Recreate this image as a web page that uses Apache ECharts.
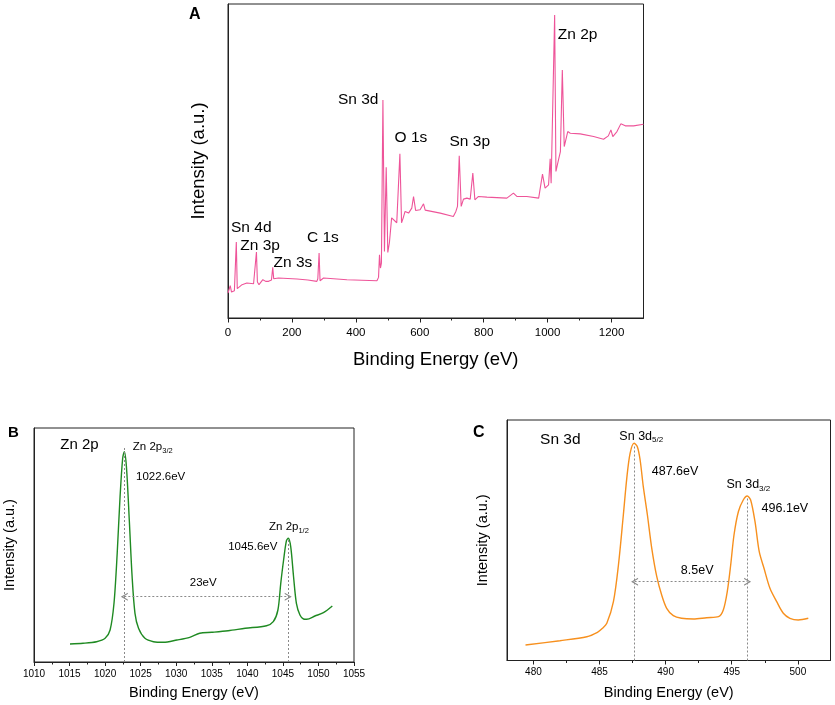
<!DOCTYPE html>
<html>
<head>
<meta charset="utf-8">
<script src="https://cdn.jsdelivr.net/npm/echarts@6/dist/echarts.min.js"></script>
<style>
  html, body { margin: 0; padding: 0; background: #fff; }
  #main { width: 835px; height: 705px; }
</style>
</head>
<body>
<div id="main"></div>
<script>
// A: survey spectrum
let energyA = [0, 4, 7, 11, 15, 20, 23, 26, 29, 33, 44, 59, 80, 86, 89, 92, 97, 103, 109, 118,
  127, 136, 140, 143, 158, 216, 250, 278, 281, 285, 288, 292, 299, 372, 466, 471, 474, 477, 480, 484.7,
  489.5, 495, 500, 505, 512, 518, 528, 533, 537.8, 543, 548, 554, 565, 575, 580.5, 587, 601, 611.8, 617, 664,
  705, 713, 718, 723.5, 729.6, 736.8, 747.4, 757.8, 766, 772.4, 783.7, 810, 872.5, 893, 903.8, 935, 972, 984, 992, 1003,
  1008, 1011, 1016, 1022, 1026, 1034, 1040, 1046, 1052, 1063, 1071, 1102, 1144, 1175, 1190, 1198, 1204, 1217, 1229, 1243,
  1269, 1300];
let intensityA = [75, 80, 97, 78, 76, 82, 86, 228, 88, 86, 100, 105, 103, 108, 198, 108, 100, 106, 115, 110,
  110, 114, 152, 118, 120, 117, 114, 110, 118, 195, 112, 108, 120, 115, 112, 122, 190, 150, 165, 655,
  200, 453, 197, 226, 301, 306, 286, 292, 493, 286, 300, 320, 315, 330, 365, 323, 325, 343, 324, 315,
  305, 320, 335, 487, 335, 357, 360, 357, 435, 355, 365, 363, 360, 375, 365, 365, 360, 432, 390, 400,
  478, 405, 410, 910, 440, 475, 500, 745, 515, 560, 555, 553, 545, 537, 547, 565, 545, 560, 583, 577,
  577, 582];
let ticksA = [0, 200, 400, 600, 800, 1000, 1200];
let minorA = [100, 300, 500, 700, 900, 1100];
// [E, I, text]
let labelsA = [
  [9.4, 270, 'Sn 4d'], [38.5, 217, 'Zn 3p'], [142.6, 167, 'Zn 3s'], [247, 240, 'C 1s'],
  [344, 657, 'Sn 3d'], [521, 540, 'O 1s'], [693, 530, 'Sn 3p'], [1032, 850, 'Zn 2p']
];

// B: Zn 2p
let energyB = [1015.06, 1016.9, 1018.8, 1020.0, 1020.7, 1021.25, 1021.7, 1022.1, 1022.47, 1022.7,
  1023.0, 1023.4, 1023.8, 1024.2, 1024.7, 1025.6, 1026.8, 1028.2, 1030.1, 1031.9,
  1033.3, 1035.0, 1037.3, 1039.7, 1042.7, 1043.65, 1044.3, 1044.7, 1045.1, 1045.5,
  1045.76, 1046.1, 1046.5, 1046.9, 1047.4, 1047.9, 1048.35, 1049.5, 1050.7, 1051.95];
let intensityB = [18, 18.7, 20.3, 23.7, 32, 58.7, 108.7, 165, 203.7, 210.3,
  195, 142, 85, 48.7, 33.7, 23.7, 20.3, 19.7, 22, 24.7,
  28.7, 29.7, 31.3, 33.7, 36.3, 40.3, 52, 78.7, 102, 121.3,
  123.7, 115.3, 85.3, 58.7, 47, 43, 42.7, 46, 49.3, 56];
let ticksB = [1010, 1015, 1020, 1025, 1030, 1035, 1040, 1045, 1050, 1055];
let minorB = [1012.5, 1017.5, 1022.5, 1027.5, 1032.5, 1037.5, 1042.5, 1047.5, 1052.5];
let titleB = [1013.7, 217, 'Zn 2p'];
let labelsB = [
  [1023.9, 215, '{m|Zn 2p}{s|3/2}'], [1024.35, 185, '1022.6eV'], [1031.9, 79, '23eV'],
  [1043.05, 135, '{m|Zn 2p}{s|1/2}'], [1037.3, 115, '1045.6eV']
];
let peaksB = [1022.7, 1045.75];
let peakTopB = [214, 124];
let arrowB = 65.3;

// C: Sn 3d
let energyC = [479.4, 482.0, 484.04, 484.84, 485.2, 485.55, 486.05, 486.43, 486.8, 487.06,
  487.31, 487.61, 487.86, 488.07, 488.31, 488.62, 488.95, 489.33, 489.7, 490.08,
  490.58, 491.2, 492.1, 493.1, 494.0, 494.36, 494.66, 494.92, 495.17, 495.5,
  495.87, 496.17, 496.43, 496.76, 497.08, 497.44, 497.89, 498.4, 498.9, 499.4,
  500.03, 500.79];
let intensityC = [15.5, 19.8, 23.8, 28.2, 32, 37.2, 58.8, 95.5, 145.5, 182.2,
  207.2, 217.2, 213.8, 200.5, 173.8, 145.5, 112.2, 83.8, 65.5, 52.2,
  44.8, 42.2, 41.5, 42.8, 43.8, 50.5, 68.8, 95.5, 125.5, 148.8,
  160.5, 164.5, 160.5, 138.8, 108.8, 92.2, 72.2, 58.8, 47.2, 42.2,
  40.5, 42.2];
let ticksC = [480, 485, 490, 495, 500];
let minorC = [482.5, 487.5, 492.5, 497.5];
let titleC = [480.5, 221, 'Sn 3d'];
let labelsC = [
  [486.5, 224, '{m|Sn 3d}{s|5/2}'], [488.95, 189, '487.6eV'],
  [494.6, 175.5, '{m|Sn 3d}{s|3/2}'], [497.26, 151.5, '496.1eV'], [491.15, 89.5, '8.5eV']
];
let peaksC = [487.65, 496.2];
let peakTopC = [215.5, 164];
let arrowC = 78.8;

const FONT = '"Liberation Sans", Arial, sans-serif';
const chevron = 'path://M0,10 L5,0 L10,10 L8.4,10 L5,3.2 L1.6,10 Z';

const zip = (xs, ys) => xs.map((x, i) => [x, ys[i]]);

// 主轴 + 次刻度轴
const mainX = (grid, min, max, ticks, opt) => ({
  type: 'value', gridIndex: grid, min: min, max: max,
  name: 'Binding Energy (eV)', nameLocation: 'middle', nameGap: opt.nameGap,
  nameTextStyle: { fontSize: opt.nameSize, color: '#000', fontFamily: FONT },
  axisLine: { show: true, lineStyle: { color: '#222', width: 1 } },
  axisTick: { show: true, length: opt.tick, customValues: ticks, lineStyle: { color: '#222' } },
  axisLabel: {
    customValues: ticks, formatter: v => String(v),
    fontSize: opt.labelSize, margin: opt.margin, color: '#000', fontFamily: FONT
  },
  splitLine: { show: false }
});
const minorX = (grid, min, max, ticks, len) => ({
  type: 'value', gridIndex: grid, min: min, max: max, position: 'bottom',
  axisLine: { show: false },
  axisTick: { show: true, length: len, customValues: ticks, lineStyle: { color: '#222' } },
  axisLabel: { show: false },
  splitLine: { show: false }
});
const yAx = (grid, max, size, gap) => ({
  type: 'value', gridIndex: grid, min: 0, max: max,
  name: 'Intensity (a.u.)', nameLocation: 'middle', nameGap: gap, nameRotate: 90,
  nameTextStyle: { fontSize: size, color: '#000', fontFamily: FONT },
  axisLine: { show: true, lineStyle: { color: '#222' } },
  axisTick: { show: false }, axisLabel: { show: false }, splitLine: { show: false }
});

const labelSeries = (xi, yi, list, size, subSize, subPad) => ({
  type: 'scatter', xAxisIndex: xi, yAxisIndex: yi, symbolSize: 0, silent: true, z: 5,
  itemStyle: { opacity: 1 },
  data: list.map(d => ({ value: [d[0], d[1]], name: d[2] })),
  label: {
    show: true, position: 'right', distance: 0, formatter: p => p.name,
    fontSize: size, color: '#000', opacity: 1, fontFamily: FONT,
    rich: {
      m: { fontSize: size, color: '#000', fontFamily: FONT },
      s: { fontSize: subSize, color: '#000', fontFamily: FONT, padding: [subPad, 0, 0, 0] }
    }
  }
});

const guideLines = (peaks, tops, arrowY) => ({
  silent: true, animation: false,
  symbol: ['none', 'none'],
  label: { show: false },
  lineStyle: { color: '#8a8a8a', type: [2, 2], width: 1 },
  emphasis: { disabled: true },
  data: [
    [{ coord: [peaks[0], 0] }, { coord: [peaks[0], tops[0]] }],
    [{ coord: [peaks[1], 0] }, { coord: [peaks[1], tops[1]] }],
    [{ coord: [peaks[0], arrowY], symbol: chevron, symbolSize: [8, 7] },
     { coord: [peaks[1], arrowY], symbol: chevron, symbolSize: [8, 7] }]
  ]
});

let chart = echarts.init(document.getElementById('main'));
chart.setOption({
  animation: false,
  backgroundColor: '#fff',
  textStyle: { fontFamily: FONT },
  grid: [
    { left: 228, top: 4, width: 415.5, height: 314, show: true, borderColor: '#222', borderWidth: 1 },
    { left: 34, top: 428, width: 320, height: 234, show: true, borderColor: '#222', borderWidth: 1 },
    { left: 507, top: 420, width: 323.5, height: 240.5, show: true, borderColor: '#222', borderWidth: 1 }
  ],
  xAxis: [
    mainX(0, 0, 1300, ticksA, { nameGap: 32, nameSize: 18.5, tick: 4.5, labelSize: 11.5, margin: 9 }),
    minorX(0, 0, 1300, minorA, 2.5),
    mainX(1, 1010, 1055, ticksB, { nameGap: 23.5, nameSize: 14.5, tick: 4, labelSize: 10, margin: 7 }),
    minorX(1, 1010, 1055, minorB, 2.5),
    mainX(2, 478, 502.47, ticksC, { nameGap: 25, nameSize: 14.5, tick: 4, labelSize: 10, margin: 7 }),
    minorX(2, 478, 502.47, minorC, 2.5)
  ],
  yAxis: [
    yAx(0, 943, 18.5, 20),
    yAx(1, 234, 14.5, 17),
    yAx(2, 240.5, 14.5, 17)
  ],
  graphic: [
    { type: 'text', left: 189, top: 7, style: { text: 'A', fontSize: 16, fontWeight: 'bold', fontFamily: FONT, fill: '#000' } },
    { type: 'text', left: 8, top: 425, style: { text: 'B', fontSize: 15, fontWeight: 'bold', fontFamily: FONT, fill: '#000' } },
    { type: 'text', left: 473, top: 425, style: { text: 'C', fontSize: 16, fontWeight: 'bold', fontFamily: FONT, fill: '#000' } }
  ],
  series: [
    {
      type: 'line', xAxisIndex: 0, yAxisIndex: 0, data: zip(energyA, intensityA),
      showSymbol: false, lineStyle: { color: '#ee5499', width: 1.1 }, silent: true
    },
    {
      type: 'line', xAxisIndex: 2, yAxisIndex: 1, data: zip(energyB, intensityB),
      showSymbol: false, smooth: 0.3, lineStyle: { color: '#1f8a22', width: 1.4 }, silent: true,
      markLine: guideLines(peaksB, peakTopB, arrowB)
    },
    {
      type: 'line', xAxisIndex: 4, yAxisIndex: 2, data: zip(energyC, intensityC),
      showSymbol: false, smooth: 0.3, lineStyle: { color: '#f7901e', width: 1.4 }, silent: true,
      markLine: guideLines(peaksC, peakTopC, arrowC)
    },
    labelSeries(0, 0, labelsA, 15.5, 10, 6),
    labelSeries(2, 1, [titleB], 15, 10, 6),
    labelSeries(2, 1, labelsB, 11.5, 7.5, 7),
    labelSeries(4, 2, [titleC], 15.5, 10, 6),
    labelSeries(4, 2, labelsC, 12.5, 8, 7.5)
  ]
});
</script>
</body>
</html>
